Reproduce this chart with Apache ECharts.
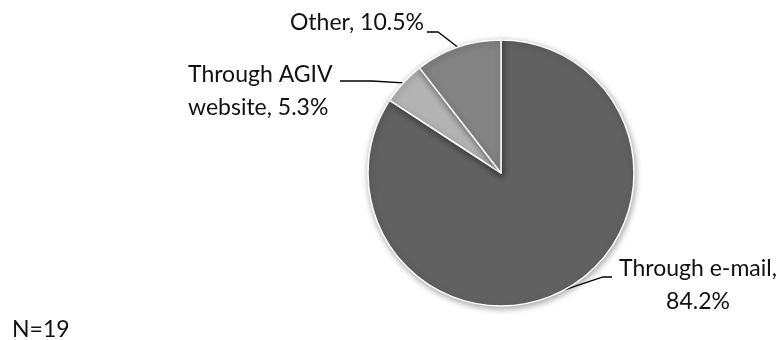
<!DOCTYPE html>
<html>
<head>
<meta charset="utf-8">
<script src="https://cdn.jsdelivr.net/npm/echarts@6/dist/echarts.min.js"></script>
<style>
  html, body { margin: 0; padding: 0; background: #ffffff; }
  #chart { width: 784px; height: 340px; }
</style>
</head>
<body>
<div id="chart"></div>
<script>
// Channels through which respondents heard about the survey (share of N=19)
const categories = ['Through e-mail', 'Through AGIV website', 'Other'];
const shares = [84.2, 5.3, 10.5];
const labelTexts = ['Through e-mail,\n84.2%', 'Through AGIV\nwebsite, 5.3%', 'Other, 10.5%'];
const sliceColors = ['#616161', '#b3b3b3', '#838383'];
const sampleNote = 'N=19';

const FONT = 'Lato, "Noto Sans", sans-serif';

// Label anchor, alignment and leader-line bend for each slice
const labelPlacement = [
  { x: 698, y: 285, align: 'center', bend: [[603, 277], [612, 277]] },
  { x: 188, y: 91, align: 'left', bend: [[372, 81], [340, 81]] },
  { x: 424, y: 23, align: 'right', bend: [[438, 32], [427, 32]] }
];

const chart = echarts.init(document.getElementById('chart'), null, { renderer: 'canvas' });

chart.setOption({
  animation: false,
  backgroundColor: '#ffffff',
  series: [{
    type: 'pie',
    center: [501, 173],
    radius: 133,
    startAngle: 90,
    clockwise: true,
    avoidLabelOverlap: false,
    data: categories.map((name, i) => ({
      name: name,
      value: shares[i],
      itemStyle: { color: sliceColors[i] },
      label: { formatter: labelTexts[i], align: labelPlacement[i].align }
    })),
    itemStyle: {
      borderColor: '#ffffff',
      borderWidth: 1.5,
      shadowBlur: 6,
      shadowOffsetX: 1,
      shadowOffsetY: 2,
      shadowColor: 'rgba(0,0,0,0.35)'
    },
    label: {
      show: true,
      position: 'outside',
      color: '#111111',
      fontFamily: FONT,
      fontSize: 23,
      lineHeight: 33,
      verticalAlign: 'middle'
    },
    labelLine: {
      show: true,
      smooth: false,
      lineStyle: { color: '#000000', width: 1.3 }
    },
    labelLayout: function (params) {
      const p = labelPlacement[params.dataIndex];
      const edge = params.labelLinePoints ? params.labelLinePoints[0] : null;
      const out = {
        x: p.x,
        y: p.y,
        align: p.align,
        verticalAlign: 'middle'
      };
      if (edge) {
        out.labelLinePoints = [edge, p.bend[0], p.bend[1]];
      }
      return out;
    },
    emphasis: { disabled: true }
  }],
  graphic: [{
    type: 'text',
    left: 12,
    top: 318,
    style: {
      text: sampleNote,
      fill: '#111111',
      font: '23px ' + FONT
    }
  }]
});
</script>
</body>
</html>
